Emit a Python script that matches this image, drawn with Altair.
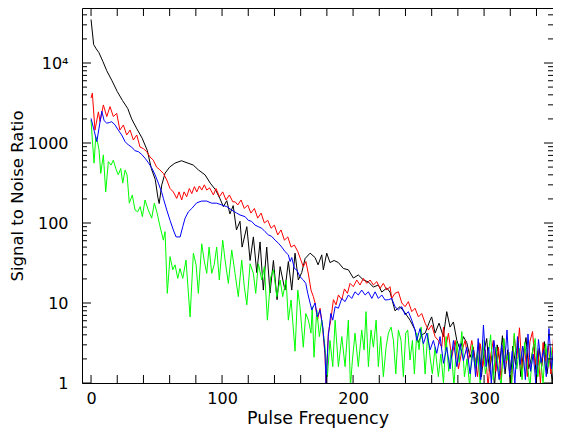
import altair as alt
import pandas as pd

# ---------------- data ----------------
# Black series
K_F = [0, 2, 4, 6, 9, 12, 16, 20, 24, 28, 31, 35, 39, 43, 46, 49, 51, 52, 54, 56.5,
       60, 64, 69, 74, 78, 82, 87, 91, 95, 98.5, 101, 103.6, 106, 108.5, 111, 113.7,
       115.3, 118.9, 121.4, 123.9, 126.5, 129, 131.5, 134.1, 136.6, 139.2, 142, 144.3,
       148, 150.6, 153.2, 155.7, 158.2, 160.8, 163.4, 167.2, 171, 173.3, 176.1, 177.3,
       179.9, 182.4, 185.5, 188.8, 192.6, 196.4, 200.2, 204, 207.9, 211.7, 215.5, 219.3,
       221.9, 225.7, 228.2, 232, 235.9, 239.7, 243.5, 247.3, 249.8, 252.4, 255, 258.8,
       260, 262.6, 265.6, 268.9, 271.5, 274, 276.6, 279.2, 281.7, 284.2, 286.8, 289.3,
       291.8,
       294, 296, 298, 300, 302, 304, 306, 308, 310, 312, 314, 316, 318, 320, 322, 324,
       326, 328, 330, 332, 334, 336, 338, 340, 342, 344, 346, 348, 350, 352, 354, 356, 358]
K_V = [35000, 17000, 15000, 13500, 10500, 8000, 6000, 4400, 3400, 2700, 2000, 1500, 1150,
       800, 480, 350, 210, 175, 300, 420, 500, 560, 600, 560, 530, 460, 400, 315, 260,
       200, 160, 190, 130, 165, 82, 105, 50, 90, 34, 67, 24, 58, 14.5, 50, 13.3, 34, 11,
       28.5, 14.5, 33, 14.5, 42, 19.4, 24, 36, 42, 37, 30, 40, 26, 42, 32, 34, 32, 27, 26,
       20.5, 22.4, 19.4, 18.3, 15.8, 16.8, 13.7, 15.4, 13.7, 8, 9, 7.5, 6.1, 4.6, 3.2, 4,
       4.2, 6.1, 6.7, 4.2, 5.6, 3.8, 7.8, 5, 5.8, 3.4, 2.6, 3.8, 3.2, 2.1, 2.8,
       1.5, 3.2, 1.2, 2.5, 3.6, 1.4, 2.2, 0.9, 3.0, 1.8, 3.9, 1.3, 2.6, 1.0, 2.9, 1.7,
       3.4, 1.2, 2.4, 3.7, 1.5, 2.0, 3.1, 1.1, 2.7, 1.6, 3.3, 1.3, 2.2, 1.0, 3.0, 1.8, 2.5]

# Red series
R_F = [0, 1, 3, 5.6, 6.9, 9.4, 12, 14.5, 17, 19.6, 22, 24.7, 27.2, 29.8, 32.3, 34.9, 37.4,
       40, 42.5, 45, 47.5, 50, 52, 55.2, 57.8, 60.3, 62.8, 65.4, 67.2, 69.2, 71, 73, 75,
       76.9, 78.9, 80.7, 82.7, 84.5, 86.5, 88.3, 90.5, 93.4, 95.4, 98, 100.5, 103, 105.6,
       108.2, 110, 112, 114.5, 117, 119.6, 122, 124.7, 127.2, 129.8, 132.3, 134.9, 137.4,
       139.9, 142.5, 145, 147.6, 150.2, 152.7, 155.2, 157.8, 160.3, 162, 164, 165.9, 167.9,
       169.7, 171, 172.8, 174.8, 176.9, 178.6, 179.4, 181.1, 183, 185, 187, 188.8, 191.4,
       193.4, 195.7, 197.7, 200.2, 202.8, 205.3, 207.9, 210.5, 213, 215.5, 218.1, 220.6,
       223.1, 225.7, 228.2, 229.5, 232, 234.6, 237.2, 239.7, 242.2, 244.8, 247.3, 249.9,
       252.4, 255, 257.5, 260, 262.6, 265.1, 267.7, 269, 270.5, 272.8, 275.3, 277.9, 280.4,
       283, 285.5, 288, 290.6,
       293, 295, 297, 299, 301, 303, 305, 307, 309, 311, 313, 315, 317, 319, 321, 323, 325,
       327, 329, 331, 333, 335, 337, 339, 341, 343, 345, 347, 349, 351, 353, 355, 357]
R_V = [3650, 4200, 1450, 2450, 1850, 2990, 2140, 2850, 2140, 2350, 1450, 1680, 1260, 1450,
       1090, 1260, 890, 850, 780, 670, 610, 500, 470, 417, 345, 270, 245, 203, 245, 194,
       245, 213, 270, 233, 285, 245, 290, 258, 300, 258, 275, 224, 270, 213, 245, 194, 224,
       184, 184, 168, 194, 152, 168, 133, 152, 115, 133, 100, 108, 86, 94, 71, 82, 61, 67,
       50, 53, 44, 34, 28.5, 33, 23, 14.5, 12, 10, 6.1, 8.6, 4.6, 2.2, 0.9, 4.2, 6.1, 11,
       9.5, 12.6, 11, 15, 13.2, 17.6, 16, 19.4, 16.8, 20.3, 17.6, 19.4, 16.8, 18.5, 15.2,
       17.6, 14.5, 16, 11.4, 13.2, 13.8, 10, 9, 10.4, 7.8, 8.6, 6.7, 7.4, 5.6, 4.6, 5.3,
       3.8, 3.4, 2.8, 5, 2.6, 4.2, 2.1, 3.4, 1.5, 2.5, 3.4, 1.9, 3.4,
       2.0, 1.2, 3.1, 1.6, 2.6, 0.9, 2.2, 3.4, 1.4, 2.8, 1.1, 3.6, 1.8, 2.4, 1.0, 3.9, 2.0,
       4.9, 1.5, 2.7, 1.2, 3.3, 4.4, 1.7, 2.5, 1.0, 3.2, 1.9, 2.9, 1.3, 3.7, 2.1, 1.6]

# Blue series
B_F = [0, 2.5, 4.4, 6, 8.2, 10, 12, 14, 15.8, 18.3, 20.8, 23.4, 26, 28.5, 31, 33.6, 36.1,
       38.7, 41.2, 43.7, 46.3, 48.9, 51.4, 54, 55.2, 57.8, 60.3, 62.8, 64.9, 68, 70, 71.8,
       74.3, 76.9, 80.7, 84.5, 88.3, 92.1, 95.9, 99.8, 103.6, 107.4, 111.2, 113.7, 117.6,
       120, 122.5, 125.2, 127.7, 130.3, 132.8, 135.3, 137.9, 140.5, 143, 145.6, 148, 150.6,
       151.9, 153.2, 155.2, 157, 159.5, 162, 163.9, 165.4, 167.2, 168.5, 171, 172.8, 174.8,
       176.9, 178.6, 179.4, 181.1, 183, 184.5, 186.3, 188.8, 191.4, 193.9, 196.4, 199,
       201.5, 204, 206.6, 209.2, 211.7, 214.3, 216.8, 219.3, 221.9, 224.4, 227, 229.5, 232,
       234.6, 237.2, 239.7, 242.2, 244.8, 247.3, 248.6, 251.1, 253.7, 256.3, 258.8, 261.3,
       263.9, 266.4, 269, 271.5, 274, 276.6, 279.2, 281.7, 284.2, 286.8, 289.3, 291.8,
       293.5, 295.5, 297.5, 299.5, 301.5, 303.5, 305.5, 307.5, 309.5, 311.5, 313.5, 315.5,
       317.5, 319.5, 321.5, 323.5, 325.5, 327.5, 329.5, 331.5, 333.5, 335.5, 337.5, 339.5,
       341.5, 343.5, 345.5, 347.5, 349.5, 351.5, 353.5, 355.5, 357.5]
B_V = [2030, 1400, 1040, 1500, 2500, 1900, 1770, 1800, 1850, 1680, 1450, 1260, 1040, 945,
       890, 800, 780, 720, 645, 570, 490, 400, 315, 240, 203, 145, 108, 82, 67, 67, 90, 115,
       138, 152, 179, 188, 188, 177, 177, 168, 160, 145, 133, 126, 120, 108, 105, 94, 90, 86,
       78, 71, 68, 61, 56, 50, 44, 40, 33, 37, 27, 26, 21.3, 19.4, 17.6, 13.2, 10, 8.2, 10,
       6.7, 8.2, 5, 2.35, 1.0, 3.8, 7.4, 6.1, 9, 8.6, 11.4, 10.4, 12.6, 11.4, 13.8, 12.6,
       14.5, 12.6, 13.8, 11.4, 13.8, 11.4, 12.6, 10.9, 11, 11.4, 9, 8.2, 9, 7.1, 7.8, 6.1,
       4.6, 3.4, 4.8, 3.1, 4.2, 2.6, 3.4, 2.35, 3.8, 1.76, 2.8, 1.5, 3.4, 1.6, 3.1, 1.9,
       2.8, 1.3, 2.6,
       1.2, 3.6, 1.1, 5.3, 1.6, 2.8, 1.0, 3.4, 1.9, 1.1, 3.0, 1.5, 4.6, 1.2, 2.5, 1.0, 3.8,
       1.7, 2.9, 1.1, 4.1, 1.4, 2.3, 1.0, 3.5, 1.8, 2.6, 1.2, 4.8, 1.5, 3.2, 1.1, 2.7]

# Green series
G_F = [0, 1, 2.3, 3.6, 5.1, 6.1, 7.4, 9.4, 11.2, 13.2, 15.3, 17, 18.9, 20.8, 22.7, 24.2,
       26, 27.5, 29.2, 31.5, 33.6, 35.6, 37.5, 39.2, 41.2, 43.7, 46.3, 48.3, 50.2, 52.7,
       55.2, 56.5, 58.2, 60.3, 62.4, 64.1, 66.2, 67.9, 70, 72.5, 75.6, 78.1, 80.2, 81.9,
       84.5, 86.3, 88.3, 90.1, 92.1, 94, 95.9, 97.9, 100.5, 102.3, 104.8, 107.4, 109.9,
       112.4, 115, 117, 118.9, 121.4, 123.9, 125.7, 127.7, 130.3, 132.3, 134.6, 137.2,
       139.2, 141.8, 144.3, 146.3, 148.9, 150.6, 152.7, 155.7, 157.8, 159.5, 162, 163.9,
       165.9, 167.9, 168.8, 170.2, 172.3, 174.3, 176.1, 178.6, 180.4, 182.4, 184.5, 186.3,
       188.8, 191.4, 193.9, 196.4, 198, 199.5, 201.5, 204, 206.6, 208.4, 209.9, 211.7, 213.7,
       215.5, 217.6, 219.3, 221.1, 223.1, 225.2, 227, 229, 230.8, 232.6, 234.6, 236.6,
       238.4, 240.2, 241.7, 243.5, 245.3, 246.8, 248.6, 250.4, 251.9, 253.7, 255, 257,
       258.8, 260.5, 262.6, 265.1,
       267, 269, 271, 273, 275, 277, 279, 281, 283, 285, 287, 289, 291, 293, 295, 297, 299,
       301, 303, 305, 307, 309, 311, 313, 315, 317, 319, 321, 323, 325, 327, 329, 331, 333,
       335, 337, 339, 341, 343, 345, 347, 349, 351, 353, 355, 357]
G_V = [1940, 1090, 560, 1200, 1000, 820, 417, 710, 245, 585, 530, 610, 480, 400, 480, 315,
       460, 400, 177, 224, 145, 138, 160, 120, 194, 145, 115, 177, 138, 90, 61, 78, 13.2,
       38, 26, 30, 20.3, 27, 20.3, 34.4, 6.7, 42, 30, 13.2, 55, 34.4, 23.5, 50, 23.5, 30, 50,
       19.4, 61, 34.4, 17.6, 46, 23.5, 12, 34.4, 16, 9.5, 31, 23.5, 13.2, 31, 19.4, 28.5,
       6.1, 21.3, 26, 12, 19.4, 12, 19.4, 6.1, 10.9, 2.5, 14.5, 9, 2.8, 7.4, 6.1, 4.2, 9,
       2.1, 8.2, 3.8, 6.1, 2.8, 1.2, 3.4, 1.6, 6.1, 1.6, 3.8, 1.6, 6.1, 0.9, 1.94, 4.2, 1.6,
       4.6, 2.6, 7.8, 1.6, 4.6, 2.8, 6.1, 1.6, 3.8, 1.2, 2.8, 4.2, 5, 3.4, 1.3, 4.6, 3.4,
       1.2, 4.2, 4.6, 1.94, 3.4, 1.3, 4.2, 2.6, 5, 2.8, 1.3, 4.2, 2.1, 1.3, 2.8, 1.2,
       2.3, 1.0, 3.8, 1.4, 2.6, 0.9, 3.3, 1.8, 4.4, 1.2, 2.0, 0.9, 3.0, 1.6, 2.5, 1.0, 3.4,
       1.3, 2.1, 4.0, 1.1, 2.8, 1.5, 0.9, 3.6, 1.9, 2.4, 1.0, 4.2, 1.5, 2.7, 1.1, 3.2, 1.7,
       0.9, 2.5, 3.6, 1.2, 2.2, 1.0, 3.1, 1.6, 2.8, 1.3, 3.5, 2.0]

SERIES = [("black", K_F, K_V), ("red", R_F, R_V), ("#00ff00", G_F, G_V), ("blue", B_F, B_V)]

X_LABELS = [0, 100, 200, 300]
X_TICKS = list(range(0, 360, 20))
Y_MAJOR = [1, 10, 100, 1000, 10000]
X_DOMAIN = [-6.9, 352.6]
Y_DOMAIN = [1, 48700]
Y_MINOR = [m * d for d in [1, 10, 100, 1000, 10000] for m in range(2, 10)
           if m * d < Y_DOMAIN[1]]

# ---------------- chart ----------------
W, H = 471, 375
FONT = "DejaVu Sans"

xscale = alt.Scale(domain=X_DOMAIN, nice=False, zero=False)
yscale = alt.Scale(type="log", domain=Y_DOMAIN, nice=False)

xaxis = alt.Axis(
    values=X_LABELS, title="Pulse Frequency", grid=False, ticks=False, tickSize=0,
    domain=False, labelPadding=7, labelFontSize=16, labelFont=FONT,
    titleFont=FONT, titleFontSize=17.5, titleFontWeight="normal", titlePadding=3,
    labelColor="black", titleColor="black", labelFlush=False)
yaxis = alt.Axis(
    values=Y_MAJOR, title="Signal to Noise Ratio", grid=False, ticks=False,
    tickSize=0, domain=False, labelPadding=14, labelFontSize=16, labelFont=FONT,
    titleFont=FONT, titleFontSize=16.5, titleFontWeight="normal", titlePadding=2,
    labelColor="black", titleColor="black", labelFlush=False,
    labelExpr="datum.value >= 10000 ? '10⁴' : format(datum.value, 'd')")

layers = []
for col, fx, vy in SERIES:
    df = pd.DataFrame({"f": fx, "v": vy})
    layers.append(alt.Chart(df).mark_line(color=col, strokeWidth=1, clip=True).encode(
        x=alt.X("f:Q", scale=xscale, axis=xaxis),
        y=alt.Y("v:Q", scale=yscale, axis=yaxis)))

xt = pd.DataFrame({"t": X_TICKS})
ymaj = pd.DataFrame({"t": Y_MAJOR})
ymin = pd.DataFrame({"t": Y_MINOR})


def xtick(y0, y1):
    return alt.Chart(xt).mark_rule(color="black", strokeWidth=1).encode(
        x=alt.X("t:Q", scale=xscale, axis=xaxis), y=alt.value(y0), y2=alt.value(y1))


def ytick(df, x0, x1):
    return alt.Chart(df).mark_rule(color="black", strokeWidth=1).encode(
        y=alt.Y("t:Q", scale=yscale, axis=yaxis), x=alt.value(x0), x2=alt.value(x1))


layers += [
    xtick(H, H - 8), xtick(0, 8),
    ytick(ymaj, 0, 9), ytick(ymaj, W - 9, W),
    ytick(ymin, 0, 5), ytick(ymin, W - 5, W),
]

chart = alt.layer(*layers).properties(
    width=W, height=H,
    autosize=alt.AutoSizeParams(type="none"),
    padding={"left": 74, "top": 0, "right": 0, "bottom": 45},
    background="white",
).configure_view(stroke="black", strokeWidth=1)

chart.save("out.html", embed_options={"renderer": "svg", "actions": False})
